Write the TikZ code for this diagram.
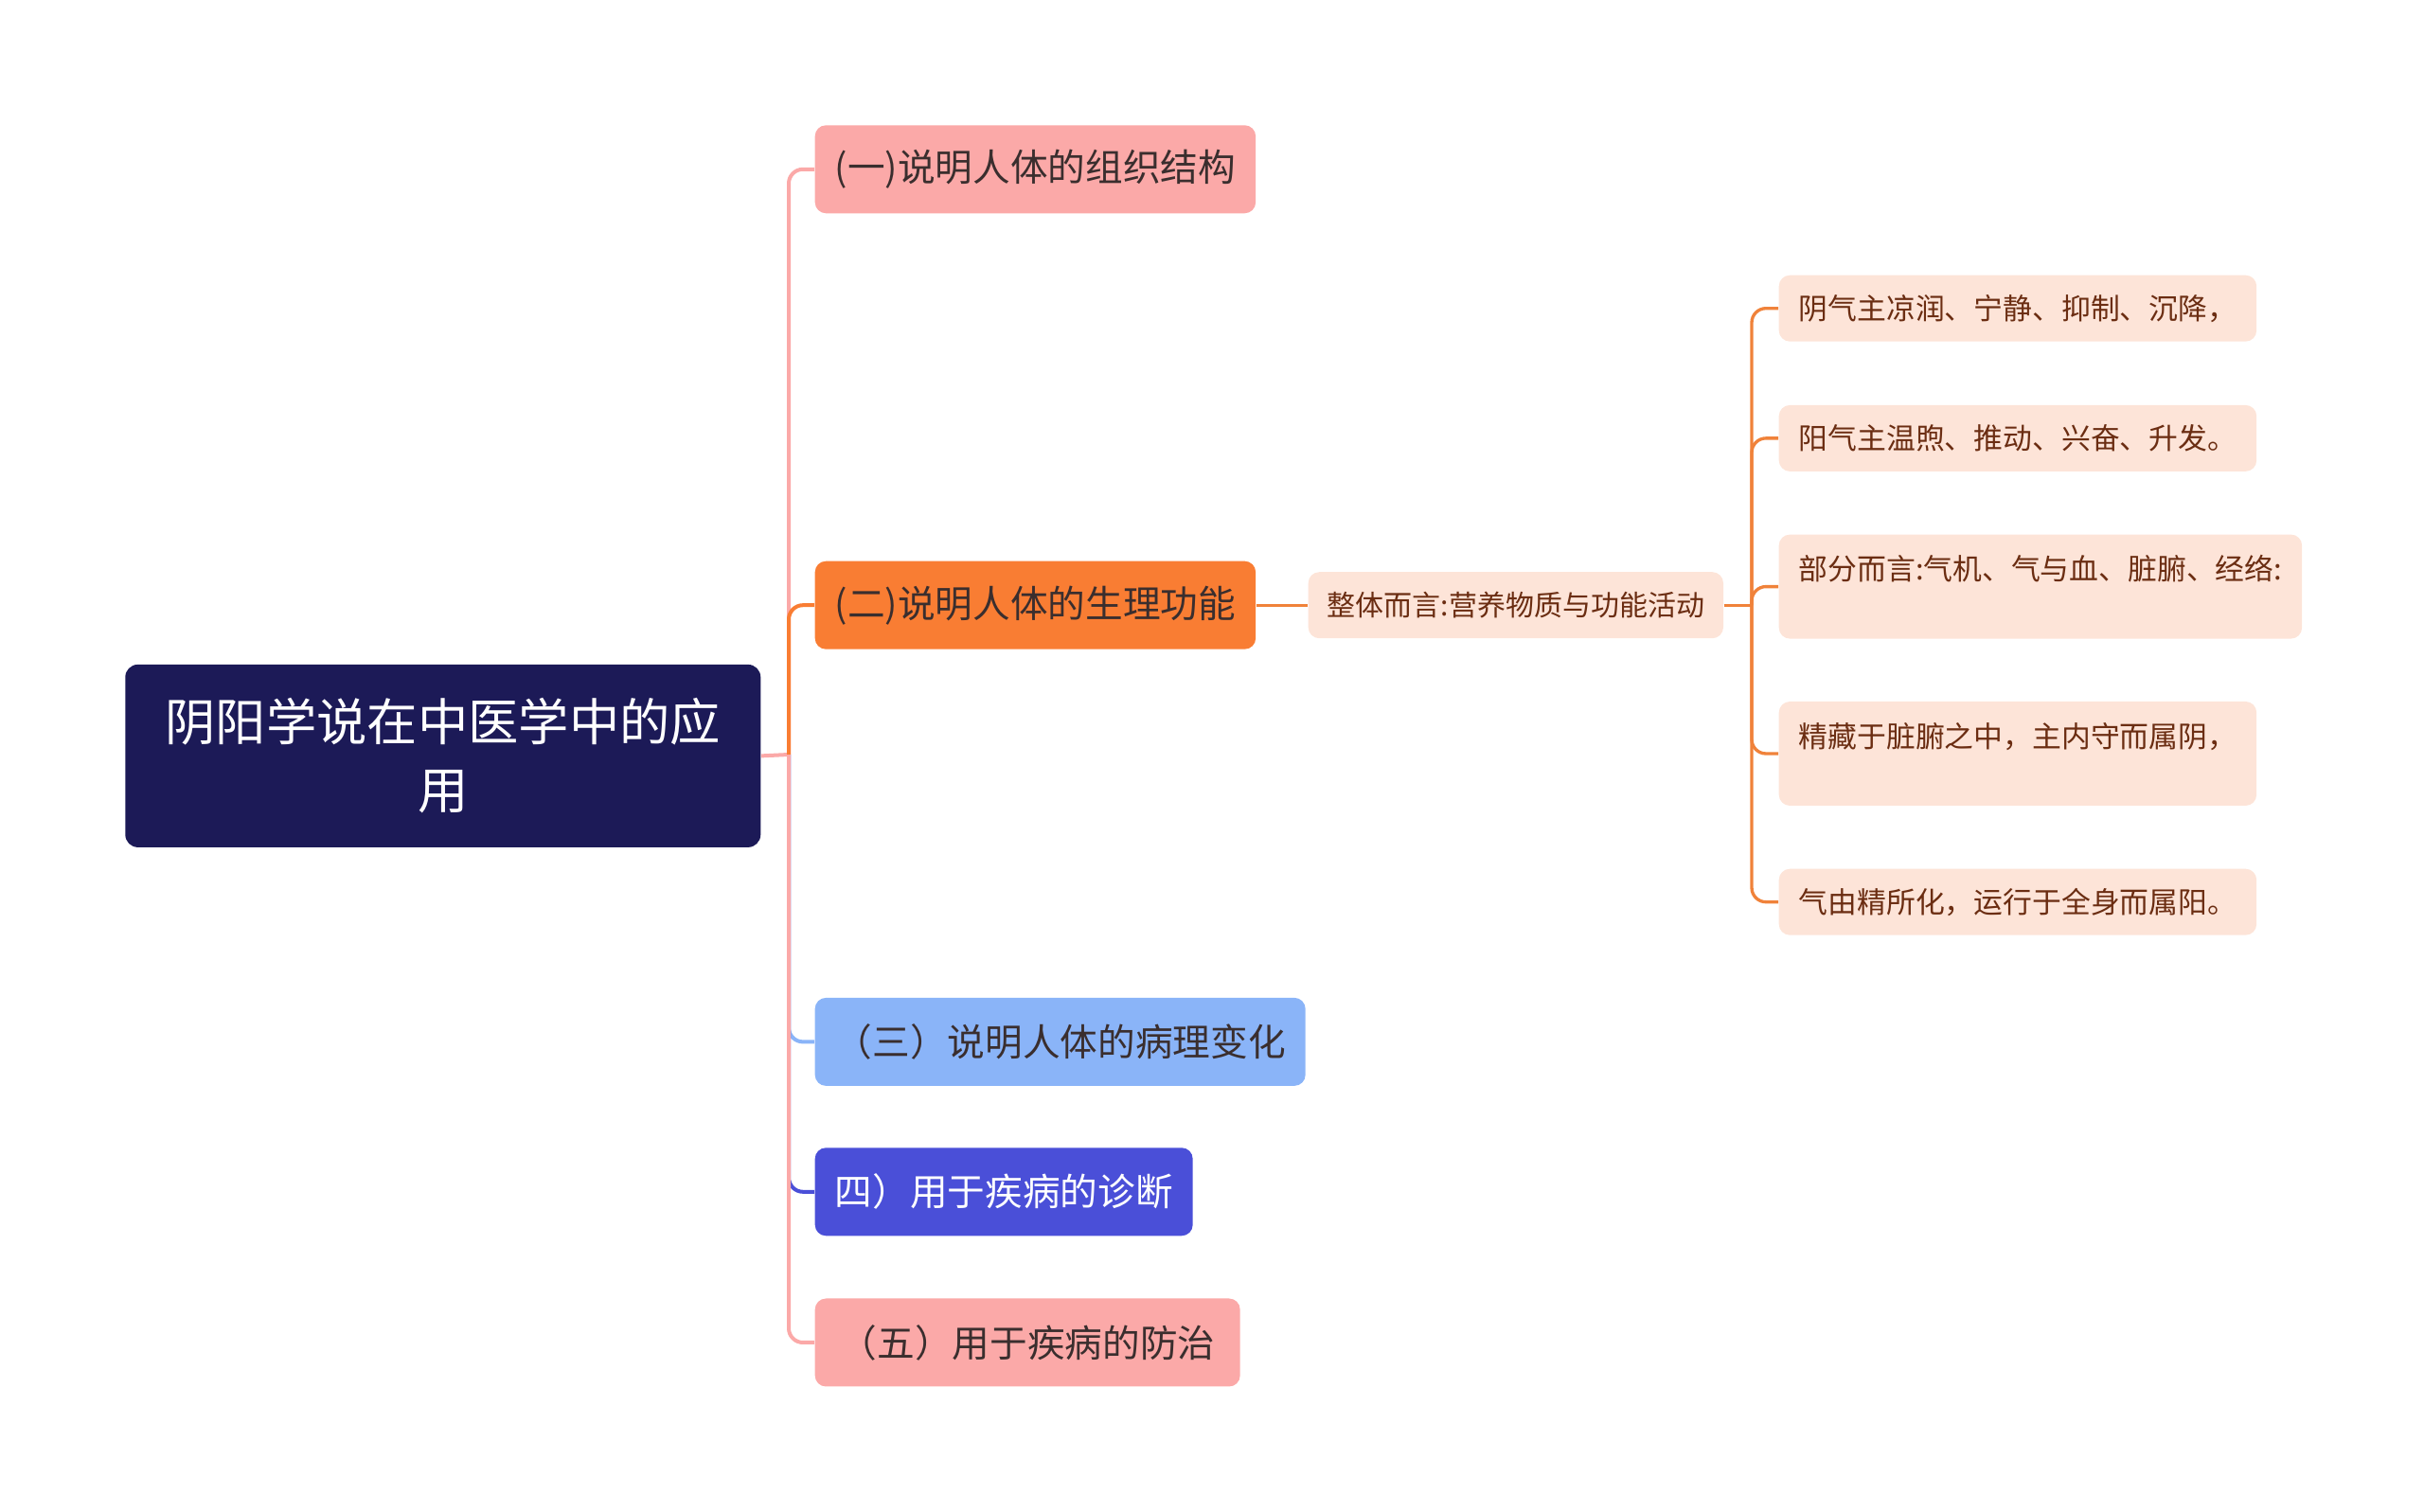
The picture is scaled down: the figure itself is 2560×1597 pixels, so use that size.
\documentclass[tikz,border=0pt]{standalone}
\usepackage{fontspec}
\setmainfont{Noto Sans CJK SC}
\definecolor{rootc}{HTML}{1C1A57}
\definecolor{pinkc}{HTML}{FBA9A8}
\definecolor{orangec}{HTML}{F97D33}
\definecolor{bluec}{HTML}{8AB4F8}
\definecolor{indigoc}{HTML}{4A4FD8}
\definecolor{peachc}{HTML}{FDE4D8}
\definecolor{darktext}{HTML}{3A2E2E}
\definecolor{browntext}{HTML}{6B2D12}
\definecolor{lineorange}{HTML}{F0823A}
\begin{document}
\begin{tikzpicture}[x=0.3pt,y=-0.3pt,
  rootbox/.style={fill=rootc, rounded corners=4pt, text=white,
    font=\fontsize{16}{21.6}\selectfont, align=center,
    minimum width=201.3pt, minimum height=57.9pt, inner sep=0pt},
  lonebox/.style={rounded corners=3.5pt, text=darktext,
    font=\fontsize{11.9}{14}\selectfont, inner xsep=6.3pt, inner ysep=0pt,
    minimum height=27.9pt, anchor=west},
  leafbox/.style={fill=peachc, rounded corners=3.5pt, text=browntext,
    font=\fontsize{9.25}{12}\selectfont, align=left, inner xsep=6.3pt, inner ysep=0pt,
    minimum height=21pt, anchor=west},
  tall/.style={minimum height=33pt},
  conn/.style={line width=1.2pt, rounded corners=4.5pt},
  leafconn/.style={line width=1pt, rounded corners=4.5pt, draw=lineorange}
]
\useasboundingbox (0,0) rectangle (2560,1597);

% root
\node[rootbox] (root) at (467.8,798.4) {阴阳学说在中医学中的应\\用};

% level 1
\node[lonebox, fill=pinkc] (n1) at (860,178.8) {(一)说明人体的组织结构};
\node[lonebox, fill=orangec] (n2) at (860,639.2) {(二)说明人体的生理功能};
\node[lonebox, fill=bluec] (n3) at (860,1100.4) {（三）说明人体的病理变化};
\node[lonebox, fill=indigoc, text=white] (n4) at (860,1258.8) {四）用于疾病的诊断};
\node[lonebox, fill=pinkc, minimum width=134.7pt] (n5) at (860,1418) {（五）用于疾病的防治};

% level 2
\node[leafbox, font=\fontsize{9}{12}\selectfont, inner xsep=6pt] (mid) at (1381,639.2) {整体而言:营养物质与功能活动};

% leaves
\node[leafbox] (l1) at (1878,325.7) {阴气主凉润、宁静、抑制、沉降，};
\node[leafbox] (l2) at (1878,462.9) {阳气主温煦、推动、兴奋、升发。};
\node[leafbox, tall] (l3) at (1878,619.6) {部分而言:气机、气与血、脏腑、经络:\\\mbox{}};
\node[leafbox, tall] (l4) at (1878,796) {精藏于脏腑之中，主内守而属阴，\\\mbox{}};
\node[leafbox] (l5) at (1878,952.7) {气由精所化，运行于全身而属阳。};

% connectors root -> level 1
\coordinate (t) at (833,797);
\draw[conn, draw=pinkc] (root.east) -- (t);
\draw[conn, draw=pinkc] (t) |- (n1.west);
\draw[conn, draw=bluec] (t) |- (n3.west);
\draw[conn, draw=indigoc] (t) |- (n4.west);
\draw[conn, draw=pinkc] (t) |- (n5.west);
\draw[conn, draw=orangec] (t) |- (n2.west);

% level 1 -> level 2
\draw[leafconn] (n2.east) -- (mid.west);

% level 2 -> leaves
\coordinate (t2) at (1850,639.2);
\draw[leafconn] (mid.east) -- (t2);
\draw[leafconn] (t2) |- (l1.west);
\draw[leafconn] (t2) |- (l2.west);
\draw[leafconn] (t2) |- (l3.west);
\draw[leafconn] (t2) |- (l4.west);
\draw[leafconn] (t2) |- (l5.west);
\end{tikzpicture}
\end{document}
